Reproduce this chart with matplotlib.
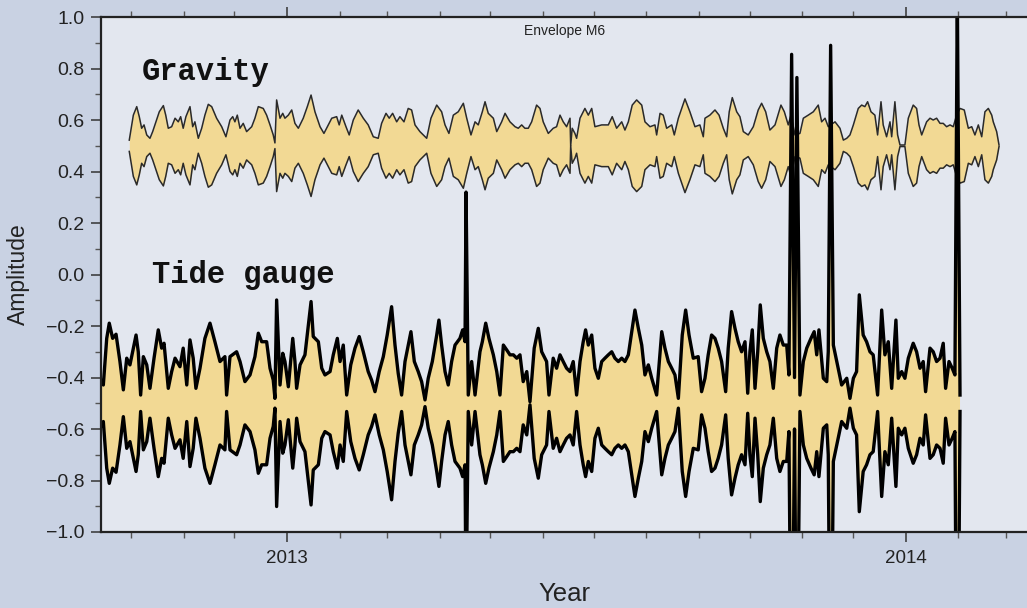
import numpy as np
import matplotlib.pyplot as plt
import matplotlib.dates as mdates
from matplotlib.ticker import MultipleLocator

# envelope amplitudes of the M6 band, sampled at the turning points
# time axis: days since 2013-01-01
t0 = np.datetime64('2013-01-01T00:00')

grav_mid = 0.5
grav_day = [-93.0, -90.6, -88.6, -87.1, -85.7, -84.3, -82.7, -80.8, -79.2, -77.3,
            -75.3, -72.9, -71.5, -70.0, -68.0, -66.0, -64.1, -62.7, -61.2, -59.6,
            -57.2, -55.6, -54.3, -52.3, -50.3, -48.4, -46.4, -44.4, -41.5, -38.5,
            -36.0, -33.6, -32.0, -30.7, -29.3, -27.7, -25.8, -23.8, -20.8, -18.9,
            -16.9, -14.0, -12.0, -10.0, -8.1, -7.1, -6.1, -4.1, -2.5, -1.2,
            0.8, 2.8, 4.7, 6.7, 9.6, 12.0, 14.2, 16.5, 19.5, 21.8,
            24.4, 26.4, 29.3, 30.8, 32.3, 34.8, 36.7, 39.1, 42.0, 45.0,
            47.9, 50.9, 53.8, 55.8, 58.4, 60.3, 62.3, 64.7, 66.6, 69.0,
            71.5, 73.5, 75.5, 78.4, 82.4, 84.9, 88.3, 91.2, 93.2, 95.5,
            98.1, 101.0, 104.0, 106.0, 108.5, 110.9, 112.8, 115.2, 116.8, 118.7,
            121.7, 123.7, 126.6, 128.6, 131.5, 134.5, 136.4, 138.4, 140.3, 142.3,
            144.3, 147.2, 149.2, 151.1, 154.1, 157.0, 159.0, 161.0, 162.9, 164.9,
            166.9, 167.3, 168.2, 169.8, 170.8, 172.8, 175.7, 177.7, 179.7, 181.6,
            185.6, 189.5, 191.8, 194.4, 197.4, 199.3, 201.3, 203.6, 206.2, 209.2,
            211.1, 214.1, 217.0, 218.0, 220.0, 221.9, 223.9, 226.9, 228.4, 230.8,
            234.7, 237.6, 240.6, 243.5, 245.5, 246.5, 249.4, 252.4, 254.8, 257.3,
            259.3, 260.8, 262.6, 265.2, 267.1, 269.1, 272.0, 275.0, 277.9, 279.9,
            282.3, 284.8, 287.8, 291.3, 293.3, 295.6, 297.2, 299.6, 302.5, 304.5,
            307.4, 310.4, 313.3, 315.3, 317.3, 319.2, 323.2, 326.1, 328.1, 330.1,
            332.0, 334.0, 336.9, 338.9, 340.8, 342.4, 344.4, 346.7, 348.3, 350.3,
            351.6, 353.6, 355.6, 356.6, 358.5, 360.1, 361.5, 364.4, 366.4, 369.3,
            371.3, 372.7, 374.3, 377.2, 379.2, 381.1, 383.1, 385.1, 387.0, 389.0,
            391.0, 392.9, 394.9, 396.9, 399.4, 401.8, 403.8, 405.7, 407.7, 409.7,
            411.6, 413.6, 415.6, 416.5, 418.5, 419.9]
grav_amp = [0.022, 0.119, 0.152, 0.113, 0.068, 0.081, 0.042, 0.029, 0.055, 0.093,
            0.132, 0.156, 0.119, 0.068, 0.074, 0.107, 0.093, 0.113, 0.068, 0.113,
            0.152, 0.074, 0.093, 0.029, 0.068, 0.119, 0.161, 0.152, 0.107, 0.074,
            0.035, 0.100, 0.113, 0.093, 0.119, 0.068, 0.087, 0.055, 0.074, 0.107,
            0.152, 0.145, 0.119, 0.081, 0.042, 0.011, 0.178, 0.107, 0.126, 0.107,
            0.119, 0.139, 0.087, 0.068, 0.107, 0.152, 0.197, 0.132, 0.074, 0.048,
            0.081, 0.107, 0.113, 0.081, 0.119, 0.074, 0.042, 0.100, 0.139, 0.107,
            0.081, 0.035, 0.029, 0.087, 0.126, 0.107, 0.126, 0.093, 0.113, 0.093,
            0.145, 0.139, 0.081, 0.055, 0.029, 0.107, 0.158, 0.132, 0.081, 0.048,
            0.119, 0.132, 0.165, 0.107, 0.042, 0.093, 0.081, 0.132, 0.171, 0.126,
            0.107, 0.055, 0.093, 0.126, 0.093, 0.074, 0.068, 0.081, 0.068, 0.068,
            0.093, 0.158, 0.145, 0.093, 0.048, 0.068, 0.074, 0.119, 0.093, 0.074,
            0.107, 0.000, 0.068, 0.048, 0.029, 0.107, 0.145, 0.119, 0.145, 0.074,
            0.081, 0.081, 0.113, 0.068, 0.093, 0.061, 0.093, 0.158, 0.178, 0.158,
            0.093, 0.074, 0.081, 0.042, 0.126, 0.119, 0.068, 0.081, 0.042, 0.107,
            0.182, 0.132, 0.074, 0.081, 0.035, 0.107, 0.119, 0.139, 0.119, 0.068,
            0.035, 0.132, 0.187, 0.132, 0.113, 0.055, 0.042, 0.074, 0.139, 0.165,
            0.132, 0.061, 0.081, 0.158, 0.132, 0.081, 0.119, 0.042, 0.048, 0.107,
            0.119, 0.132, 0.158, 0.093, 0.107, 0.074, 0.093, 0.068, 0.022, 0.029,
            0.042, 0.081, 0.145, 0.158, 0.152, 0.171, 0.132, 0.119, 0.042, 0.171,
            0.081, 0.035, 0.093, 0.035, 0.171, 0.042, 0.003, 0.003, 0.107, 0.158,
            0.145, 0.081, 0.042, 0.093, 0.107, 0.100, 0.107, 0.087, 0.087, 0.074,
            0.081, 0.074, 0.119, 0.145, 0.139, 0.068, 0.074, 0.042, 0.081, 0.035,
            0.132, 0.145, 0.119, 0.093, 0.055, 0.003]

tide_mid = -0.5
tide_day = [-110.3, -108.3, -106.3, -104.8, -102.8, -100.8, -98.5, -96.5, -94.5, -92.6,
            -91.0, -89.0, -87.7, -86.3, -84.7, -82.7, -80.8, -78.4, -75.9, -73.9,
            -72.5, -70.0, -68.0, -66.0, -63.1, -61.2, -59.1, -57.2, -55.3, -53.7,
            -51.3, -48.4, -45.4, -42.5, -39.5, -36.6, -35.6, -33.6, -29.7, -27.7,
            -24.8, -21.8, -18.9, -16.9, -14.9, -12.0, -10.0, -8.1, -7.1, -6.1,
            -4.1, -2.5, -1.2, 0.8, 3.4, 4.7, 5.7, 7.7, 10.6, 12.6,
            14.2, 15.5, 18.5, 20.5, 22.4, 25.4, 27.3, 29.7, 31.3, 33.2,
            35.2, 37.6, 40.1, 42.6, 45.0, 47.9, 49.9, 51.9, 54.4, 56.8,
            59.1, 61.7, 63.7, 65.6, 67.6, 69.6, 71.5, 73.1, 75.1, 77.4,
            79.4, 81.4, 83.3, 85.7, 88.3, 89.6, 91.2, 93.2, 95.1, 97.1,
            99.1, 102.0, 103.6, 105.0, 105.6, 106.9, 108.9, 110.9, 113.8, 115.2,
            117.2, 119.1, 121.7, 123.7, 125.6, 127.6, 129.6, 131.5, 133.5, 135.5,
            137.4, 139.3, 141.4, 143.3, 145.8, 148.2, 150.2, 153.1, 154.5, 157.0,
            159.0, 161.0, 162.9, 164.9, 166.9, 168.8, 170.8, 172.8, 174.7, 176.1,
            177.7, 179.7, 181.6, 183.6, 185.6, 187.5, 189.5, 191.5, 193.4, 195.4,
            197.4, 199.3, 201.3, 203.6, 205.2, 207.2, 209.2, 211.1, 213.1, 215.1,
            218.0, 221.0, 222.9, 224.9, 226.9, 228.8, 230.8, 233.1, 235.1, 237.1,
            239.6, 242.5, 244.5, 246.5, 248.4, 250.4, 252.4, 254.3, 256.3, 258.7,
            260.2, 262.2, 264.2, 266.1, 268.1, 270.1, 271.7, 273.0, 274.4, 276.0,
            277.6, 279.1, 280.9, 282.9, 284.8, 286.8, 288.8, 290.7, 292.7, 294.7,
            296.0, 297.6, 299.3, 300.7, 302.5, 304.5, 306.5, 309.0, 310.9, 312.4,
            313.7, 316.3, 318.3, 319.2, 320.6, 322.2, 324.2, 327.1, 330.1, 332.0,
            334.0, 335.9, 337.5, 339.8, 341.8, 343.8, 345.7, 348.3, 350.7, 352.6,
            354.6, 356.6, 359.1, 360.5, 362.5, 364.4, 366.4, 369.3, 371.3, 373.3,
            375.2, 376.6, 379.2, 381.1, 383.1, 385.1, 387.0, 388.4, 390.4, 392.3,
            393.9, 395.3, 396.9]
tide_amp = [0.098, 0.071, 0.252, 0.311, 0.252, 0.268, 0.162, 0.052, 0.175, 0.149,
            0.200, 0.265, 0.200, 0.032, 0.181, 0.149, 0.058, 0.175, 0.285, 0.214,
            0.233, 0.058, 0.123, 0.175, 0.142, 0.214, 0.071, 0.246, 0.175, 0.058,
            0.136, 0.252, 0.311, 0.239, 0.162, 0.181, 0.032, 0.181, 0.200, 0.162,
            0.084, 0.110, 0.181, 0.272, 0.239, 0.239, 0.136, 0.090, 0.019, 0.401,
            0.071, 0.194, 0.162, 0.064, 0.252, 0.162, 0.058, 0.149, 0.188, 0.304,
            0.395, 0.259, 0.239, 0.136, 0.110, 0.123, 0.188, 0.252, 0.162, 0.226,
            0.032, 0.149, 0.214, 0.259, 0.200, 0.123, 0.090, 0.045, 0.123, 0.181,
            0.265, 0.375, 0.226, 0.116, 0.032, 0.162, 0.226, 0.278, 0.162, 0.123,
            0.084, 0.013, 0.097, 0.162, 0.265, 0.323, 0.226, 0.123, 0.071, 0.162,
            0.226, 0.252, 0.285, 0.239, 0.820, 0.032, 0.162, 0.032, 0.200, 0.239,
            0.311, 0.252, 0.188, 0.123, 0.032, 0.226, 0.207, 0.188, 0.188, 0.175,
            0.188, 0.084, 0.123, 0.006, 0.214, 0.291, 0.200, 0.162, 0.032, 0.175,
            0.136, 0.188, 0.162, 0.136, 0.123, 0.162, 0.032, 0.162, 0.239, 0.285,
            0.226, 0.265, 0.136, 0.097, 0.162, 0.175, 0.188, 0.200, 0.175, 0.162,
            0.175, 0.162, 0.188, 0.291, 0.362, 0.291, 0.226, 0.110, 0.149, 0.097,
            0.032, 0.278, 0.214, 0.162, 0.136, 0.110, 0.019, 0.265, 0.362, 0.265,
            0.175, 0.181, 0.045, 0.097, 0.188, 0.265, 0.252, 0.214, 0.162, 0.045,
            0.214, 0.356, 0.291, 0.239, 0.200, 0.239, 0.039, 0.200, 0.285, 0.058,
            0.200, 0.382, 0.252, 0.200, 0.162, 0.058, 0.214, 0.265, 0.226, 0.226,
            0.110, 1.355, 0.100, 1.265, 0.032, 0.162, 0.214, 0.252, 0.278, 0.188,
            0.285, 0.097, 0.084, 0.200, 1.390, 0.226, 0.162, 0.071, 0.097, 0.019,
            0.097, 0.123, 0.421, 0.265, 0.239, 0.200, 0.188, 0.032, 0.362, 0.188,
            0.239, 0.058, 0.323, 0.097, 0.123, 0.097, 0.175, 0.233, 0.200, 0.136,
            0.162, 0.045, 0.214, 0.200, 0.162, 0.175, 0.233, 0.058, 0.162, 0.136,
            0.110, 1.600, 0.032]

fill_col = '#f2d994'
fig_bg = '#c9d2e3'
ax_bg = '#e3e7ef'


def to_time(days):
    return t0 + (np.asarray(days) * 86400).astype('timedelta64[s]')


fig = plt.figure(figsize=(10.27, 6.08), dpi=100, facecolor=fig_bg)
ax = fig.add_axes([0.0983, 0.125, 0.9017, 0.847], facecolor=ax_bg)

# gravity envelope
t = to_time(grav_day)
a = np.array(grav_amp)
ax.fill_between(t, grav_mid - a, grav_mid + a, color=fill_col, lw=0)
ax.plot(t, grav_mid + a, color='#2a2a2a', lw=1.1)
ax.plot(t, grav_mid - a, color='#2a2a2a', lw=1.1)

# tide gauge envelope (drawn last so the spikes sit on top)
t = to_time(tide_day)
a = np.array(tide_amp)
ax.fill_between(t, tide_mid - a, tide_mid + a, color=fill_col, lw=0)
ax.plot(t, tide_mid + a, color='black', lw=2.4)
ax.plot(t, tide_mid - a, color='black', lw=2.4)

ax.set_xlim(to_time(-109.7), to_time(436.4))
ax.set_ylim(-1.0, 1.0)

ax.xaxis.set_major_locator(mdates.YearLocator())
ax.xaxis.set_minor_locator(mdates.MonthLocator())
ax.xaxis.set_major_formatter(mdates.DateFormatter('%Y'))
ax.yaxis.set_major_locator(MultipleLocator(0.2))
ax.yaxis.set_minor_locator(MultipleLocator(0.1))

ax.tick_params(axis='both', which='major', length=7, width=1.1, color='#333333',
               labelsize=14, labelcolor='#222222', direction='out', pad=5)
ax.tick_params(axis='both', which='minor', length=4, width=1.0, color='#555555',
               direction='out')
ax.tick_params(axis='x', which='both', top=True)
ax.tick_params(axis='x', which='major', labelsize=13.5, pad=6)
for lbl in ax.get_xticklabels() + ax.get_yticklabels():
    lbl.set_fontfamily('Liberation Sans')

for side in ('left', 'top', 'bottom'):
    ax.spines[side].set_color('#222222')
    ax.spines[side].set_linewidth(1.6)
ax.spines['right'].set_visible(False)

ax.set_xlabel('Year', fontsize=18.5, family='Liberation Sans', color='#222222', labelpad=11)
ax.set_ylabel('Amplitude', fontsize=16.5, family='Liberation Sans', color='#222222', labelpad=11)

ax.text(0.501, 0.972, 'Envelope M6', transform=ax.transAxes, ha='center', va='center',
        fontsize=10, family='Liberation Sans', color='#222222')
ax.text(0.044, 0.893, 'Gravity', transform=ax.transAxes, ha='left', va='center',
        fontsize=22, family='Liberation Mono', weight='bold', color='#111111')
ax.text(0.055, 0.499, 'Tide gauge', transform=ax.transAxes, ha='left', va='center',
        fontsize=22, family='Liberation Mono', weight='bold', color='#111111')

fig.savefig('out.png', dpi=100, facecolor=fig_bg)
